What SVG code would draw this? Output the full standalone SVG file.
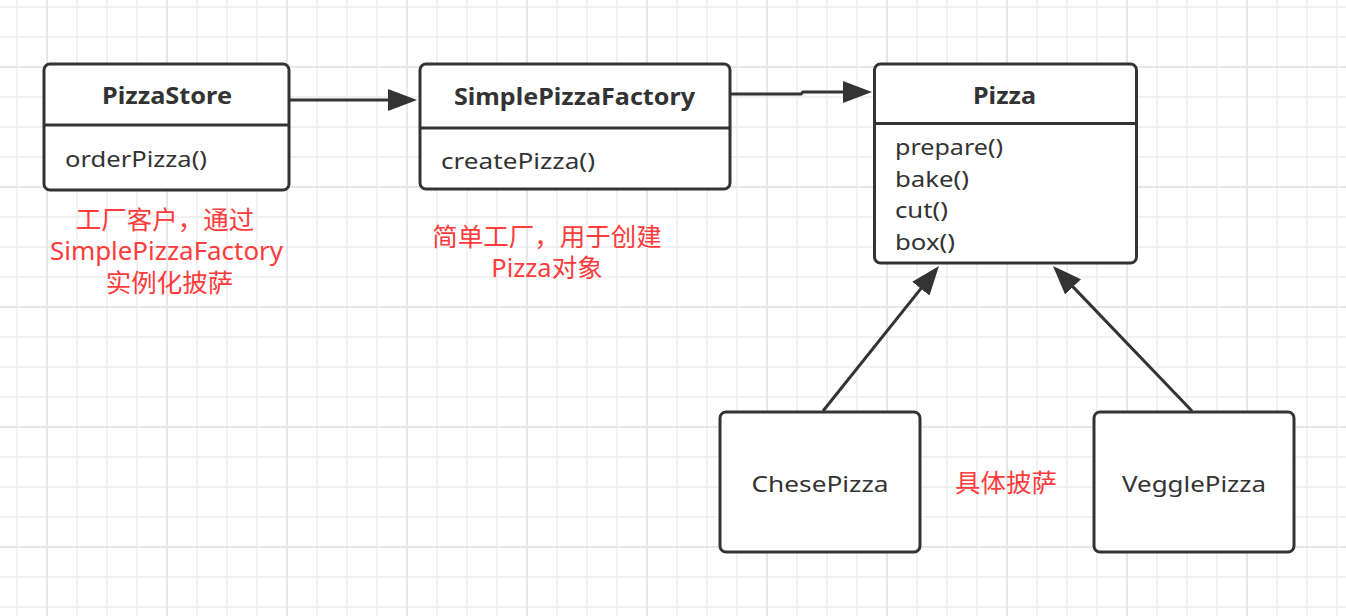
<svg xmlns="http://www.w3.org/2000/svg" width="1346" height="616" viewBox="0 0 1346 616">
<style>
.box{fill:#fff;stroke:#333;stroke-width:3}
.div{stroke:#333;stroke-width:3;fill:none}
.conn{stroke:#333;stroke-width:3;fill:none}
.t{font-family:"Noto Sans","Noto Sans CJK SC",sans-serif;fill:#333;font-size:22px}
.b{font-weight:bold;font-size:23px}
.r{font-family:"Noto Sans","Noto Sans CJK SC",sans-serif;fill:#ff3b3b;font-size:25.5px}
</style>
<defs>
<pattern id="minor" width="30" height="30" patternUnits="userSpaceOnUse" x="2" y="-8">
<path d="M15,0V30M0,15H30" stroke="#f1f1f1" stroke-width="2" fill="none"/>
</pattern>
<pattern id="major" width="120" height="120" patternUnits="userSpaceOnUse" x="-13" y="7">
<path d="M60,0V120M0,60H120" stroke="#e6e6e6" stroke-width="2" fill="none"/>
</pattern>
<marker id="arrow" viewBox="0 0 29 22" refX="9" refY="11" markerWidth="29" markerHeight="22" markerUnits="userSpaceOnUse" orient="auto">
<path d="M0,0L29,11L0,22z" fill="#333"/>
</marker>
</defs>
<rect width="1346" height="616" fill="#fff"/>
<rect width="1346" height="616" fill="url(#minor)"/>
<rect width="1346" height="616" fill="url(#major)"/>

<g id="connectors">
<path class="conn" d="M290,100H397" marker-end="url(#arrow)"/>
<path class="conn" d="M730,94H801L803,92H852" marker-end="url(#arrow)"/>
<path class="conn" d="M823,411L926.5,281.6" marker-end="url(#arrow)"/>
<path class="conn" d="M1192,411L1066.8,280.4" marker-end="url(#arrow)"/>
</g>

<g id="PizzaStore">
<rect class="box" x="44" y="64" width="245" height="126" rx="6"/>
<path class="div" d="M44,125H289"/>
<text class="t b" x="167" y="104" text-anchor="middle" textLength="130" lengthAdjust="spacingAndGlyphs">PizzaStore</text>
<text class="t" x="65" y="167" textLength="142" lengthAdjust="spacingAndGlyphs">orderPizza()</text>
</g>

<g id="SimplePizzaFactory">
<rect class="box" x="420" y="64" width="310" height="125" rx="6"/>
<path class="div" d="M420,128H730"/>
<text class="t b" x="574.5" y="105" text-anchor="middle" textLength="241" lengthAdjust="spacingAndGlyphs">SimplePizzaFactory</text>
<text class="t" x="441" y="169" textLength="154" lengthAdjust="spacingAndGlyphs">createPizza()</text>
</g>

<g id="Pizza">
<rect class="box" x="874.5" y="64" width="262" height="199" rx="6"/>
<path class="div" d="M874.5,123.5H1136.5"/>
<text class="t b" x="1004.5" y="104" text-anchor="middle" textLength="63" lengthAdjust="spacingAndGlyphs">Pizza</text>
<text class="t" x="895" y="155" textLength="108" lengthAdjust="spacingAndGlyphs">prepare()</text>
<text class="t" x="895" y="187" textLength="74" lengthAdjust="spacingAndGlyphs">bake()</text>
<text class="t" x="895" y="218" textLength="53" lengthAdjust="spacingAndGlyphs">cut()</text>
<text class="t" x="895" y="250" textLength="60" lengthAdjust="spacingAndGlyphs">box()</text>
</g>

<g id="ChesePizza">
<rect class="box" x="720" y="412" width="200" height="140" rx="6"/>
<text class="t" x="820" y="492" text-anchor="middle" textLength="137" lengthAdjust="spacingAndGlyphs">ChesePizza</text>
</g>

<g id="VegglePizza">
<rect class="box" x="1094" y="412" width="200" height="140" rx="6"/>
<text class="t" x="1194" y="492" text-anchor="middle" textLength="144" lengthAdjust="spacingAndGlyphs">VegglePizza</text>
</g>

<g id="note-client">
<text class="r" x="165" y="229" text-anchor="middle">工厂客户，通过</text>
<text class="r" x="166.5" y="260" text-anchor="middle" textLength="233" lengthAdjust="spacingAndGlyphs">SimplePizzaFactory</text>
<text class="r" x="169.5" y="292" text-anchor="middle">实例化披萨</text>
</g>

<g id="note-factory">
<text class="r" x="547" y="246" text-anchor="middle">简单工厂，用于创建</text>
<text class="r" x="547" y="277" text-anchor="middle">Pizza对象</text>
</g>

<g id="note-concrete">
<text class="r" x="1006" y="492" text-anchor="middle">具体披萨</text>
</g>
</svg>
